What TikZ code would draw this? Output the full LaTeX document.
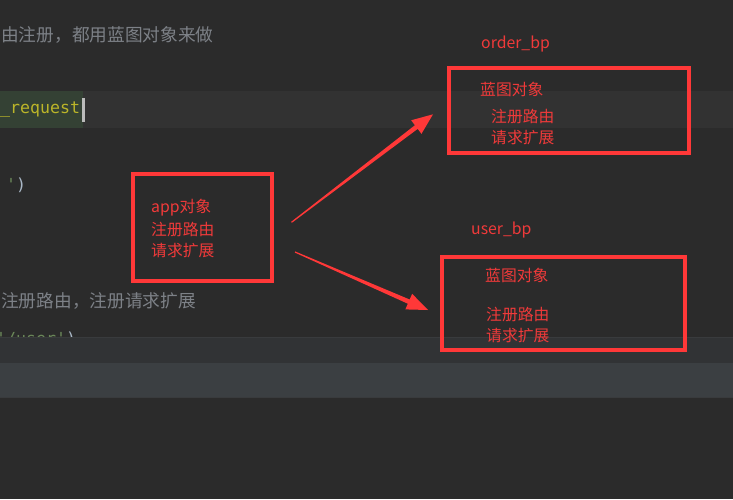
\documentclass[tikz,border=0pt]{standalone}
\usepackage{fontspec}
\usetikzlibrary{calc}
\newfontfamily\cjk{Noto Sans CJK SC}
\newfontfamily\mono{DejaVu Sans Mono}
\definecolor{bgc}{HTML}{2B2B2B}
\definecolor{curline}{HTML}{323232}
\definecolor{hlgreen}{HTML}{344134}
\definecolor{caretc}{HTML}{BBBBBB}
\definecolor{commentc}{HTML}{7D8187}
\definecolor{yellowc}{HTML}{BBB529}
\definecolor{strc}{HTML}{6A8759}
\definecolor{fgc}{HTML}{A9B7C6}
\definecolor{panela}{HTML}{313335}
\definecolor{panelb}{HTML}{3B3F42}
\definecolor{panelline}{HTML}{393B3D}
\definecolor{redc}{HTML}{FF3838}
\definecolor{redtext}{HTML}{F03A3A}
\tikzset{
  redbox/.style={draw=redc, line width=3.5pt, inner sep=0pt},
  redlabel/.style={anchor=west, inner sep=0pt, text=redtext, font=\cjk\fontsize{15.8}{18}\selectfont},
  comment/.style={anchor=west, inner sep=0pt, text=commentc, font=\cjk\fontsize{17.7}{20}\selectfont},
  code/.style={inner sep=0pt, font=\mono\fontsize{16.6}{20}\selectfont},
  arrowfill/.style={fill=redc}
}
\newcommand\taperarrow[3]{%
  \coordinate (#3b) at ($(#2)!21pt!(#1)$);
  \fill[arrowfill] ($(#1)!0.6pt!90:(#2)$) -- ($(#3b)!2.3pt!90:(#2)$) -- ($(#3b)!8.5pt!90:(#2)$) -- (#2)
    -- ($(#3b)!8.5pt!-90:(#2)$) -- ($(#3b)!2.3pt!-90:(#2)$) -- ($(#1)!0.6pt!-90:(#2)$) -- cycle;
}
\begin{document}
\begin{tikzpicture}[x=1pt,y=-1pt]
\useasboundingbox (0,0) rectangle (733,499);
\clip (0,0) rectangle (733,499);
\fill[bgc] (0,0) rectangle (733,499);
% current line
\fill[curline] (0,91) rectangle (733,128);
\fill[hlgreen] (0,91) rectangle (83,128);
% code text
\node[comment] (c1) at (1,35) {由注册，都用蓝图对象来做};
\node[code, anchor=west, text=yellowc] (req) at (0,110) {\_request};
\fill[caretc] (82,98) rectangle (85,122);
\node[code, anchor=west] (paren) at (6,185) {\textcolor{strc}{'}\textcolor{fgc}{)}};
\node[comment] (c2) at (1,301) {注册路由，注册请求扩展};
\node[code, anchor=base west] (user) at (-4,344) {\textcolor{strc}{'/user'}\textcolor{fgc}{)}};
% bottom panel
\fill[panela] (0,337) rectangle (733,363);
\fill[panelb] (0,363) rectangle (733,397);
\draw[panelline, line width=1pt] (0,337) -- (733,337);
\draw[panelline, line width=1pt] (0,397) -- (733,397);
% boxes
\node[redbox, minimum width=139pt, minimum height=107pt] (appbox) at (202.5,227.5) {};
\node[redbox, minimum width=240pt, minimum height=85pt] (orderbox) at (569,110.5) {};
\node[redbox, minimum width=243pt, minimum height=93pt] (userbox) at (563.5,303.5) {};
% labels
\node[redlabel] (a1) at (151,208) {app对象};
\node[redlabel] (a2) at (151,230) {注册路由};
\node[redlabel] (a3) at (151,251) {请求扩展};
\node[redlabel] (ol) at (481,44) {order\_bp};
\node[redlabel] (o1) at (480,89) {蓝图对象};
\node[redlabel] (o2) at (491,117) {注册路由};
\node[redlabel] (o3) at (491,138) {请求扩展};
\node[redlabel] (ul) at (471,230) {user\_bp};
\node[redlabel] (u1) at (485,275) {蓝图对象};
\node[redlabel] (u2) at (486,315) {注册路由};
\node[redlabel] (u3) at (486,336) {请求扩展};
% arrows
\coordinate (t1) at (291.5,222.3);
\coordinate (h1) at (433,114.3);
\coordinate (t2) at (295,252);
\coordinate (h2) at (428,310);
\taperarrow{t1}{h1}{aone}
\taperarrow{t2}{h2}{atwo}
\end{tikzpicture}
\end{document}
